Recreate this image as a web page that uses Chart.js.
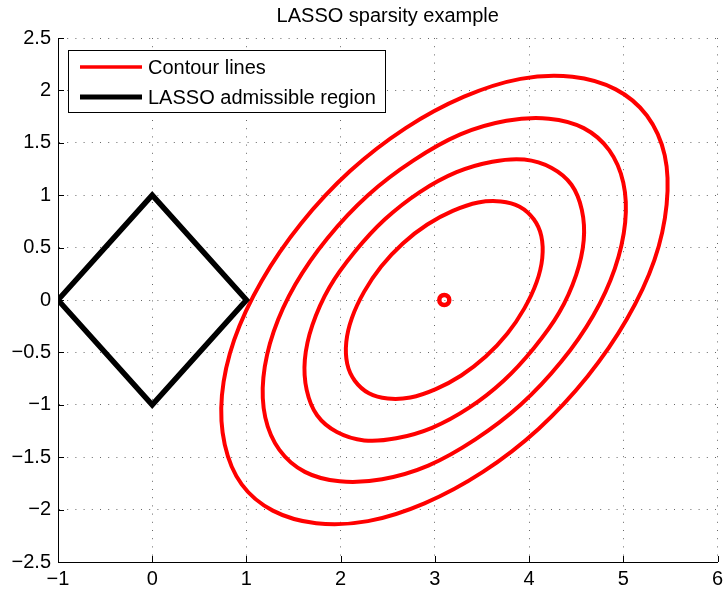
<!DOCTYPE html>
<html>
<head>
<meta charset="utf-8">
<script src="https://cdn.jsdelivr.net/npm/chart.js@4.4.0/dist/chart.umd.min.js"></script>
<style>
  html, body { margin: 0; padding: 0; background: #fff; }
</style>
</head>
<body>
<canvas id="chart" width="727" height="590"></canvas>
<script>
const titleText = 'LASSO sparsity example'
const legendLabels = ['Contour lines', 'LASSO admissible region']
const xTicks = [-1, 0, 1, 2, 3, 4, 5, 6]
const yTicks = [-2.5, -2, -1.5, -1, -0.5, 0, 0.5, 1, 1.5, 2, 2.5]

// centre of the contours (small circle)
const optimum = [[3.1, 0]]

// L1 ball |b1| + |b2| <= 1
const diamond = [[-1, 0], [0, 1], [1, 0], [0, -1], [-1, 0]]

// contour rings, innermost first
const contour1 = [[4.05, 0.77], [3.90, 0.89], [3.70, 0.94], [3.46, 0.93], [3.19, 0.85], [2.92, 0.72],
  [2.66, 0.54], [2.43, 0.32], [2.25, 0.08], [2.12, -0.17], [2.06, -0.40], [2.07, -0.61],
  [2.15, -0.77], [2.30, -0.89], [2.50, -0.94], [2.74, -0.93], [3.01, -0.85], [3.28, -0.72],
  [3.54, -0.54], [3.77, -0.32], [3.95, -0.08], [4.08, 0.17], [4.14, 0.40], [4.13, 0.61]]
const contour2 = [[4.45, 1.10], [4.24, 1.26], [3.95, 1.34], [3.61, 1.32], [3.23, 1.22], [2.84, 1.03],
  [2.47, 0.77], [2.15, 0.46], [1.88, 0.12], [1.70, -0.24], [1.62, -0.57], [1.64, -0.86],
  [1.75, -1.10], [1.96, -1.26], [2.25, -1.34], [2.59, -1.32], [2.97, -1.22], [3.36, -1.03],
  [3.73, -0.77], [4.05, -0.46], [4.32, -0.12], [4.50, 0.24], [4.58, 0.57], [4.56, 0.86]]
const contour3 = [[4.85, 1.43], [4.58, 1.64], [4.21, 1.73], [3.76, 1.71], [3.27, 1.58], [2.77, 1.33],
  [2.29, 1.00], [1.86, 0.59], [1.52, 0.15], [1.29, -0.30], [1.18, -0.74], [1.20, -1.12],
  [1.35, -1.43], [1.62, -1.64], [1.99, -1.73], [2.44, -1.71], [2.93, -1.58], [3.43, -1.33],
  [3.91, -1.00], [4.34, -0.59], [4.68, -0.15], [4.91, 0.30], [5.02, 0.74], [5.00, 1.12]]
const contour4 = [[5.25, 1.76], [4.92, 2.01], [4.46, 2.13], [3.91, 2.11], [3.31, 1.94], [2.69, 1.64],
  [2.10, 1.23], [1.58, 0.73], [1.16, 0.18], [0.87, -0.38], [0.74, -0.91], [0.77, -1.38],
  [0.95, -1.76], [1.28, -2.01], [1.74, -2.13], [2.29, -2.11], [2.89, -1.94], [3.51, -1.64],
  [4.10, -1.23], [4.62, -0.73], [5.04, -0.18], [5.33, 0.38], [5.46, 0.91], [5.44, 1.38]]

const RED = '#ff0000'
const FONT = '"Liberation Sans", Arial, Helvetica, sans-serif'

const toXY = pts => pts.map(([x, y]) => ({x, y}))

// closed ring: pad with the neighbours so the spline closes smoothly,
// the two padding segments are drawn transparent
function ring(pts) {
  const data = toXY([pts[pts.length - 1], ...pts, pts[0], pts[1]])
  const last = data.length - 1
  return {
    data: data,
    showLine: true,
    borderColor: RED,
    borderWidth: 4,
    tension: 0.33,
    pointRadius: 0,
    segment: {
      borderColor: c => (c.p0DataIndex === 0 || c.p1DataIndex === last) ? 'rgba(0,0,0,0)' : RED
    }
  }
}

const frame = {
  id: 'frame',
  afterDraw(chart) {
    const {ctx, chartArea: a, scales: {x, y}} = chart
    ctx.save()
    // inward tick marks
    ctx.strokeStyle = '#000'
    ctx.lineWidth = 1
    ctx.beginPath()
    xTicks.forEach(v => {
      const px = Math.round(x.getPixelForValue(v)) + 0.5
      ctx.moveTo(px, a.bottom)
      ctx.lineTo(px, a.bottom - 6)
    })
    yTicks.forEach(v => {
      const py = Math.round(y.getPixelForValue(v)) + 0.5
      ctx.moveTo(a.left, py)
      ctx.lineTo(a.left + 6, py)
    })
    ctx.stroke()

    // title
    ctx.fillStyle = '#000'
    ctx.font = '20px ' + FONT
    ctx.textAlign = 'center'
    ctx.textBaseline = 'middle'
    ctx.fillText(titleText, (a.left + a.right) / 2, 16)

    // legend box
    const bx = 68.5, by = 50.5, bw = 317, bh = 62
    ctx.fillStyle = '#fff'
    ctx.fillRect(bx, by, bw, bh)
    ctx.strokeStyle = '#000'
    ctx.lineWidth = 1
    ctx.strokeRect(bx, by, bw, bh)
    const rows = [[67, RED, 3.5], [97, '#000', 5]]
    rows.forEach(([ry, col, w], i) => {
      ctx.strokeStyle = col
      ctx.lineWidth = w
      ctx.beginPath()
      ctx.moveTo(80, ry)
      ctx.lineTo(142, ry)
      ctx.stroke()
      ctx.fillStyle = '#000'
      ctx.textAlign = 'left'
      ctx.fillText(legendLabels[i], 148, ry + 1)
    })
    ctx.restore()
  }
}

const minus = v => String(v).replace('-', '\u2212')

new Chart(document.getElementById('chart'), {
  type: 'scatter',
  data: {
    datasets: [
      {
        data: toXY(optimum),
        pointRadius: 5,
        pointBorderWidth: 4.5,
        pointBorderColor: RED,
        pointBackgroundColor: 'rgba(0,0,0,0)',
        showLine: false
      },
      {
        data: toXY(diamond),
        showLine: true,
        borderColor: '#000',
        borderWidth: 5.5,
        borderJoinStyle: 'miter',
        tension: 0,
        pointRadius: 0
      },
      ring(contour1),
      ring(contour2),
      ring(contour3),
      ring(contour4)
    ]
  },
  options: {
    responsive: false,
    animation: false,
    events: [],
    layout: { padding: { top: 38, right: 6, left: 0, bottom: 0 } },
    plugins: {
      legend: { display: false },
      title: { display: false },
      tooltip: { enabled: false }
    },
    scales: {
      x: {
        type: 'linear',
        min: -1,
        max: 6,
        afterBuildTicks: s => { s.ticks = xTicks.map(v => ({value: v})) },
        afterFit: s => { s.height = 28; s.paddingLeft = 0; s.paddingRight = 0 },
        grid: { color: 'rgba(0,0,0,0.6)', lineWidth: 1, drawTicks: false },
        border: { display: true, color: '#000', width: 1, dash: [1, 7.2] },
        ticks: {
          color: '#000',
          padding: 5,
          maxRotation: 0,
          autoSkip: false,
          font: { family: FONT, size: 20 },
          callback: v => minus(v)
        }
      },
      y: {
        type: 'linear',
        min: -2.5,
        max: 2.5,
        afterBuildTicks: s => { s.ticks = yTicks.map(v => ({value: v})) },
        afterFit: s => { s.width = 58; s.paddingTop = 0; s.paddingBottom = 0 },
        grid: { color: 'rgba(0,0,0,0.6)', lineWidth: 1, drawTicks: false },
        border: { display: true, color: '#000', width: 1, dash: [1, 7.2] },
        ticks: {
          color: '#000',
          padding: 7,
          autoSkip: false,
          font: { family: FONT, size: 20 },
          callback: v => minus(v)
        }
      }
    }
  },
  plugins: [frame]
})
</script>
</body>
</html>
